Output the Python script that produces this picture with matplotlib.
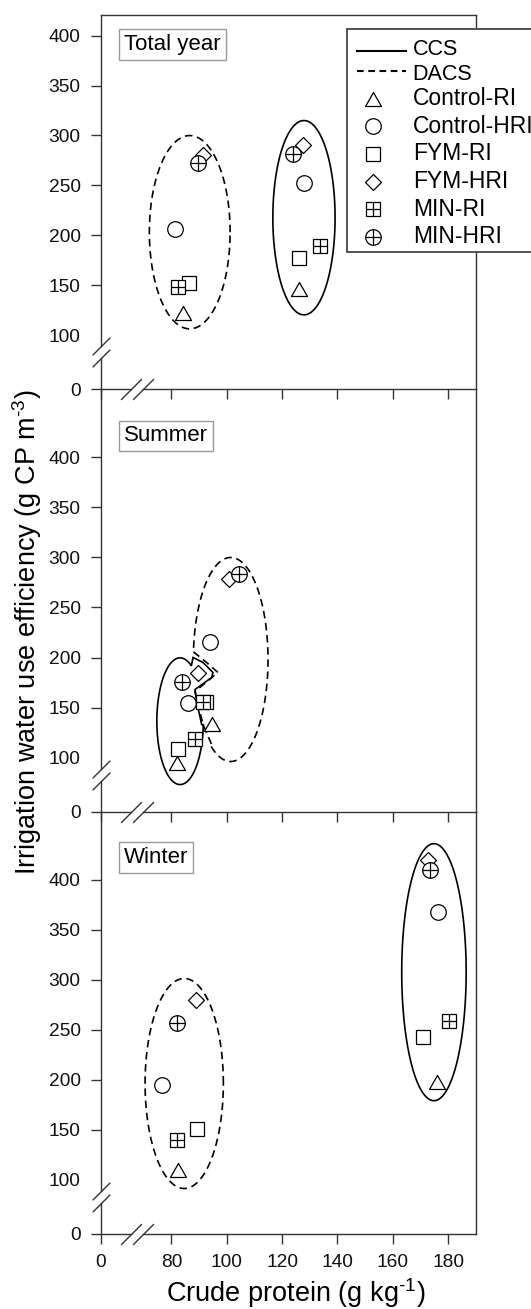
import numpy as np
import matplotlib
matplotlib.use('Agg')
import matplotlib.pyplot as plt
from matplotlib.path import Path
from matplotlib.patches import Polygon, Rectangle
from matplotlib.lines import Line2D

plt.rcParams['font.family'] = ['Liberation Sans', 'DejaVu Sans']
plt.rcParams['mathtext.fontset'] = 'custom'
plt.rcParams['mathtext.rm'] = 'Liberation Sans'
plt.rcParams['mathtext.it'] = 'Liberation Sans:italic'

treatments = ['Control-RI', 'Control-HRI', 'FYM-RI', 'FYM-HRI', 'MIN-RI', 'MIN-HRI']
seasons = ['Total year', 'Summer', 'Winter']

# crude protein (g/kg) and irrigation water use efficiency (g CP/m3)
ccs_cp_total = [126.2, 127.9, 126.1, 127.7, 133.7, 124.1]
ccs_iwue_total = [146, 252, 177, 290, 189, 281]
dacs_cp_total = [84.3, 81.3, 86.3, 91.5, 82.2, 89.5]
dacs_iwue_total = [122, 206, 152, 280, 148, 272]

ccs_cp_summer = [82.1, 86.1, 82.5, 89.7, 88.5, 83.7]
ccs_iwue_summer = [95, 155, 109, 185, 119, 176]
dacs_cp_summer = [94.5, 93.9, 92.5, 100.8, 91.3, 104.4]
dacs_iwue_summer = [134, 215, 156, 278, 156, 283]

ccs_cp_winter = [175.9, 176.3, 170.9, 172.9, 180.3, 173.5]
ccs_iwue_winter = [198, 368, 243, 420, 259, 410]
dacs_cp_winter = [82.5, 76.7, 89.3, 88.9, 82.1, 82.1]
dacs_iwue_winter = [110, 195, 151, 280, 140, 257]

# group outlines: centre x, centre y, width, height
ccs_ring = [(127.9, 217.8, 22.5, 194.3), (83.1, 136.3, 16.8, 126.7), (174.9, 307.3, 23.3, 257)]
dacs_ring = [(86.6, 203.3, 29.2, 193.3), (101.4, 198.0, 27.0, 204.0), (84.6, 196.0, 28.3, 210)]
# in summer the two rings are pushed in where they meet (vertices listed counter-clockwise)
ccs_dent_summer = [(90.9, 133), (89.1, 156), (88.5, 168), (94.5, 180), (95.0, 185), (91.4, 195), (87.8, 200)]
dacs_dent_summer = [(87.8, 206), (92.7, 195), (96.8, 185), (88.5, 166), (89.6, 153), (91.4, 133), (94.5, 113)]

ccs = [(ccs_cp_total, ccs_iwue_total), (ccs_cp_summer, ccs_iwue_summer), (ccs_cp_winter, ccs_iwue_winter)]
dacs = [(dacs_cp_total, dacs_iwue_total), (dacs_cp_summer, dacs_iwue_summer), (dacs_cp_winter, dacs_iwue_winter)]
dents = [(None, None), (ccs_dent_summer, dacs_dent_summer), (None, None)]

# broken axes: the empty stretch below the data is squeezed
def x_fwd(x):
    return np.interp(x, [-1000, 0, 60, 1000], [-1000, 0, 5.6, 945.6])

def x_inv(s):
    return np.interp(s, [-1000, 0, 5.6, 945.6], [-1000, 0, 60, 1000])

def y_fwd(y):
    return np.interp(y, [-1000, 0, 60, 3000], [-1000, 0, 14, 2954])

def y_inv(s):
    return np.interp(s, [-1000, 0, 14, 2954], [-1000, 0, 60, 3000])

tri = Path([(-1, -0.875), (1, -0.875), (0, 0.875), (-1, -0.875)], closed=True)
markers = {
    'Control-RI': (tri, 11.5, False),
    'Control-HRI': ('o', 11.2, False),
    'FYM-RI': ('s', 10.2, False),
    'FYM-HRI': ('D', 8.6, False),
    'MIN-RI': ('s', 10.5, True),
    'MIN-HRI': ('o', 11.2, True),
}
slash = Path([(-1, -1), (1, 1)])
frame_col = '#333333'

W, H = 531, 1309
fig = plt.figure(figsize=(W / 100, H / 100), dpi=100)

left_px, width_px = 100.7, 375
panels = [(389.5, 420.5), (811.5, 468), (1233.5, 468)]  # bottom pixel row, y maximum
label_gap = [13.5, 25.9, 25.6]


def outline(cx, cy, w, h, dent=None):
    a, b = w / 2, h / 2
    if dent is None:
        t = np.linspace(0, 2 * np.pi, 400, endpoint=False)
        return np.column_stack([cx + a * np.cos(t), cy + b * np.sin(t)])
    d = np.array(dent)
    t0 = np.arctan2((d[-1, 1] - cy) / b, (d[-1, 0] - cx) / a)
    t1 = np.arctan2((d[0, 1] - cy) / b, (d[0, 0] - cx) / a)
    if t1 <= t0:
        t1 += 2 * np.pi
    t = np.linspace(t0, t1, 400)
    arc = np.column_stack([cx + a * np.cos(t), cy + b * np.sin(t)])
    return np.vstack([arc, d])


axes = []
for i, (bottom_px, ytop) in enumerate(panels):
    height_px = y_fwd(ytop)
    ax = fig.add_axes([left_px / W, 1 - bottom_px / H, width_px / W, height_px / H])
    ax.patch.set_visible(False)
    ax.set_xscale('function', functions=(x_fwd, x_inv))
    ax.set_yscale('function', functions=(y_fwd, y_inv))
    ax.set_xlim(0, 190)
    ax.set_ylim(0, ytop)
    ax.set_xticks([0, 80, 100, 120, 140, 160, 180])
    ax.set_yticks([0, 100, 150, 200, 250, 300, 350, 400])
    ax.minorticks_off()
    ax.tick_params(direction='out', length=7.5, width=1, color=frame_col,
                   labelsize=13.8, pad=7, labelcolor='#111111')
    ax.yaxis.get_major_ticks()[1].tick1line.set_visible(False)
    if i < 2:
        ax.tick_params(labelbottom=False)
    for s in ax.spines.values():
        s.set_color(frame_col)
        s.set_linewidth(1.0)
    ax.spines['top'].set_visible(i == 0)

    # axis breaks
    ax.spines['left'].set_bounds(89, ytop)
    ax.spines['bottom'].set_bounds(69.8, 190)
    ax.plot([0, 0], [0, 77], color=frame_col, lw=1.0, transform=ax.get_yaxis_transform(), clip_on=False)
    ax.plot([0, 65.4], [0, 0], color=frame_col, lw=1.0, transform=ax.get_xaxis_transform(), clip_on=False)
    ax.plot([0, 0], [77, 89], ls='none', marker=slash, ms=12.7, mec=frame_col, mew=1.0,
            transform=ax.get_yaxis_transform(), clip_on=False)
    ax.plot([65.4, 69.8], [0, 0], ls='none', marker=slash, ms=15, mec=frame_col, mew=1.0,
            transform=ax.get_xaxis_transform(), clip_on=False)

    # group outlines
    ccs_dent, dacs_dent = dents[i]
    ax.add_patch(Polygon(outline(*ccs_ring[i], dent=ccs_dent), closed=True, fill=False,
                         ec='black', lw=1.2, zorder=2))
    ax.add_patch(Polygon(outline(*dacs_ring[i], dent=dacs_dent), closed=True, fill=False,
                         ec='black', lw=1.2, ls=(0, (4.5, 2.8)), zorder=2))

    # treatment points
    for system in (ccs[i], dacs[i]):
        cp, iwue = system
        for k, name in enumerate(treatments):
            m, ms, cross = markers[name]
            ax.plot(cp[k], iwue[k], ls='none', marker=m, ms=ms, mfc='white', mec='black',
                    mew=0.9, zorder=3)
            if cross:
                ax.plot(cp[k], iwue[k], ls='none', marker='+', ms=ms, mec='black', mew=0.9, zorder=3)

    ax.annotate(seasons[i], xy=(0, 1), xycoords='axes fraction', xytext=(16.8, -label_gap[i]),
                textcoords='offset points', ha='left', va='top', fontsize=16,
                bbox=dict(boxstyle='square,pad=0.22', fc='white', ec='#9a9a9a', lw=1.0))
    axes.append(ax)

fig.text(295.8 / W, 1 - 1301.7 / H, 'Crude protein (g kg$^{\\text{-1}}$)', ha='center',
         va='baseline', fontsize=19.5)
fig.text(27 / W, 1 - 632 / H, 'Irrigation water use efficiency (g CP m$^{\\text{-3}}$)',
         rotation=90, ha='center', va='center', fontsize=19.5)

# legend box at the upper right, running off the edge of the figure
def fx(x):
    return x / W

def fy(y):
    return 1 - y / H

top_ax = axes[0]
top_ax.add_patch(Rectangle((fx(346.7), fy(252.3)), fx(200), fy(29.3) - fy(252.3), transform=fig.transFigure,
                           fc='white', ec='#444444', lw=1.3, zorder=10, clip_on=False))
for y_line, y_text, style, name in [(51, 49.3, '-', 'CCS'), (70.7, 74.8, (0, (3.2, 2.2)), 'DACS')]:
    top_ax.add_line(Line2D([fx(356.7), fx(406)], [fy(y_line), fy(y_line)], transform=fig.transFigure,
                           color='black', lw=1.5, ls=style, zorder=11, clip_on=False))
    top_ax.text(fx(412.7), fy(y_text), name, transform=fig.transFigure, ha='left', va='center',
                fontsize=15.5, zorder=11)
for k, name in enumerate(treatments):
    y_px = 98.7 + k * 27.6
    m, ms, cross = markers[name]
    top_ax.add_line(Line2D([fx(372.7)], [fy(y_px)], transform=fig.transFigure, ls='none', marker=m, ms=ms,
                           mfc='white', mec='black', mew=0.9, zorder=11, clip_on=False))
    if cross:
        top_ax.add_line(Line2D([fx(372.7)], [fy(y_px)], transform=fig.transFigure, ls='none', marker='+',
                               ms=ms, mec='black', mew=0.9, zorder=11, clip_on=False))
    top_ax.text(fx(412.7), fy(y_px), name, transform=fig.transFigure, ha='left', va='center',
                fontsize=16.5, zorder=11)

fig.savefig('out.png', dpi=100)
